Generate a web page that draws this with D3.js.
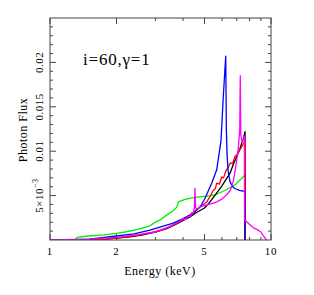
<!DOCTYPE html>
<html><head><meta charset="utf-8">
<script src="https://cdn.jsdelivr.net/npm/d3@7"></script>
<style>body{margin:0;background:#fff}svg{display:block}</style>
</head><body>
<svg id="c" width="314" height="295" font-family="'Liberation Serif', serif"></svg>
<script>
// Energy (keV) and photon flux per series
const greenE = [1.30,1.31,1.33,1.5,1.75,2.0,2.22,2.5,2.83,3.04,3.15,3.37,3.61,3.75,3.81,4.08,4.53,5.0,5.3,5.68,6.2,6.87,7.47,7.6,7.61];
const greenF = [0,0.0002,0.0003,0.00045,0.00058,0.00075,0.00093,0.0012,0.0016,0.0021,0.00225,0.0028,0.0033,0.0037,0.0043,0.00457,0.0048,0.00492,0.00498,0.00515,0.0056,0.0062,0.0071,0.0073,0];

const blackE = [1.55,1.8,2.0,2.3,2.6,3.0,3.4,3.8,4.0,4.3,4.6,5.0,5.3,5.68,6.0,6.25,6.52,6.75,6.99,7.2,7.37,7.5,7.63,7.64];
const blackF = [0,0.0001,0.0002,0.00035,0.00055,0.0009,0.0013,0.0019,0.0022,0.0026,0.0031,0.0036,0.0043,0.0053,0.0061,0.0068,0.0075,0.0085,0.0094,0.0101,0.0109,0.0114,0.0122,0];

const redE = [1.5,1.8,2.0,2.3,2.6,3.0,3.4,3.8,4.0,4.3,4.6,4.9,5.12,5.3,5.45,5.6,5.68,5.85,5.98,6.1,6.25,6.41,6.55,6.7,6.87,7.0,7.2,7.37,7.5,7.63,7.64];
const redF = [0,0.0001,0.00022,0.0004,0.0006,0.00095,0.0014,0.002,0.0023,0.0028,0.0034,0.0039,0.0043,0.0049,0.0055,0.0058,0.0064,0.0063,0.0071,0.0070,0.0078,0.0082,0.0087,0.0086,0.0094,0.0096,0.0101,0.0105,0.0108,0.0112,0];

const blueE = [1.0,1.3,1.5,2.0,2.4,2.83,3.2,3.61,4.0,4.45,4.8,5.03,5.39,5.68,5.94,6.07,6.18,6.24,6.28,6.33,6.4,6.52,6.7,6.87,7.2,7.47,7.62,7.63];
const blueF = [0,0.00005,0.0001,0.00045,0.0007,0.0011,0.0015,0.0019,0.0024,0.0030,0.0038,0.0047,0.0064,0.0079,0.0112,0.0157,0.019,0.0207,0.0125,0.0095,0.0077,0.0066,0.006,0.0058,0.0056,0.0055,0.0055,0];

const magentaE = [1.0,1.5,2.0,2.5,3.04,3.5,3.8,4.0,4.1,4.2,4.3,4.38,4.45,4.5,4.53,4.56,4.62,4.7,4.85,5.03,5.4,5.68,6.0,6.3,6.55,6.75,6.9,7.05,7.15,7.22,7.26,7.3,7.4,7.5,7.58,7.59,7.8,8.05,8.3,8.62,9.0,9.22,9.55];
const magentaF = [0,0.0001,0.0003,0.0006,0.00093,0.0015,0.002,0.0024,0.0023,0.0027,0.0026,0.0031,0.0030,0.0036,0.0058,0.0036,0.0035,0.0036,0.0038,0.0039,0.0041,0.0043,0.0046,0.0051,0.0056,0.0066,0.008,0.0095,0.011,0.0125,0.0185,0.0118,0.0110,0.0114,0.0117,0.0023,0.0020,0.0017,0.0014,0.0012,0.0009,0.0005,0];

const xTickLabels = ["1","2","5","10"];
const xTickValues = [1,2,5,10];
const yTickValues = [0.005,0.01,0.015,0.02];

const svg = d3.select("#c");
const L=50,R=271,T=18,B=240;
const x = d3.scaleLog().domain([1,10]).range([L,R]);
const y = d3.scaleLinear().domain([0,0.025]).range([B,T]);
const axisColor="#444";

// series
const series = [
  {E:greenE,F:greenF,c:"#00ee00"},
  {E:blackE,F:blackF,c:"#000000"},
  {E:redE,F:redF,c:"#ff0000"},
  {E:blueE,F:blueF,c:"#0000ff"},
  {E:magentaE,F:magentaF,c:"#ff00ff"}
];
const line = d3.line().x(d=>x(d[0])).y(d=>y(d[1]));
svg.append("defs").append("clipPath").attr("id","clip").append("rect").attr("x",L).attr("y",T).attr("width",R-L).attr("height",B-T);
const g = svg.append("g").attr("clip-path","url(#clip)");
series.forEach(s=>{
  g.append("path").attr("d",line(s.E.map((e,i)=>[e,s.F[i]])))
   .attr("fill","none").attr("stroke",s.c).attr("stroke-width",1.3).attr("stroke-linejoin","round");
});

// frame
svg.append("rect").attr("x",L).attr("y",T).attr("width",R-L).attr("height",B-T)
  .attr("fill","none").attr("stroke",axisColor).attr("stroke-width",1);

// x ticks (log)
const xMinor=[];
for(let v=1;v<=10;v++) xMinor.push(v);
xMinor.forEach(v=>{
  const len = xTickValues.includes(v)?6:3;
  const px=x(v);
  svg.append("line").attr("x1",px).attr("x2",px).attr("y1",B).attr("y2",B-len).attr("stroke",axisColor);
  svg.append("line").attr("x1",px).attr("x2",px).attr("y1",T).attr("y2",T+len).attr("stroke",axisColor);
});
xTickValues.forEach((v,i)=>{
  svg.append("text").attr("x",x(v)).attr("y",255).attr("text-anchor","middle")
    .attr("font-size",11).attr("letter-spacing",0.8).text(xTickLabels[i]);
});

// y ticks
d3.range(1,25).forEach(k=>{
  const v=k*0.001;
  const len = (k%5===0)?6:3;
  const py=y(v);
  svg.append("line").attr("x1",L).attr("x2",L+len).attr("y1",py).attr("y2",py).attr("stroke",axisColor);
  svg.append("line").attr("x1",R).attr("x2",R-len).attr("y1",py).attr("y2",py).attr("stroke",axisColor);
});
yTickValues.forEach(v=>{
  const t=svg.append("text").attr("transform",`translate(43,${y(v)}) rotate(-90)`)
    .attr("text-anchor","middle").attr("font-size",11).attr("letter-spacing",0.5);
  if(v===0.005){
    t.append("tspan").text("5×10");
    t.append("tspan").attr("font-size",8).attr("dy",-5).text("−3");
  } else {
    t.text(String(v));
  }
});

// labels
svg.append("text").attr("transform","translate(27,130) rotate(-90)").attr("text-anchor","middle")
  .attr("font-size",12).attr("letter-spacing",0.5).text("Photon Flux");
svg.append("text").attr("x",160).attr("y",275).attr("text-anchor","middle")
  .attr("font-size",12).attr("letter-spacing",0.5).text("Energy (keV)");
svg.append("text").attr("x",83).attr("y",65).attr("font-size",17).attr("letter-spacing",0.8)
  .text("i=60,γ=1");
</script>
</body></html>
